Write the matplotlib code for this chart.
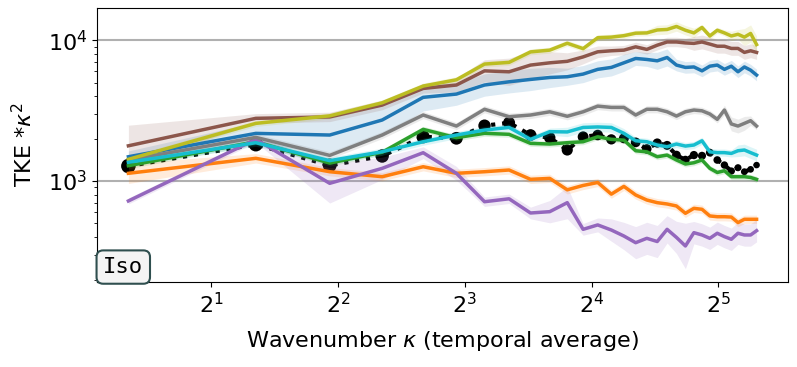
import numpy as np
import matplotlib
matplotlib.use("Agg")
import matplotlib.pyplot as plt

# wavenumbers (temporal average)
kappa = [1.27, 2.55, 3.82, 5.09, 6.37, 7.64, 8.91, 10.19, 11.46, 12.73,
         14.01, 15.28, 16.55, 17.83, 19.10, 20.37, 21.65, 22.92, 24.19, 25.46,
         26.74, 28.01, 29.28, 30.56, 31.83, 33.10, 34.38, 35.65, 36.92, 38.20, 39.47]

# reference (black dots)
ref = [1277, 1820, 1290, 1505, 2060, 2010, 2470, 2590, 2120, 2030,
       1660, 2060, 2120, 1975, 2010, 1880, 1690, 1860, 1790, 1528,
       1410, 1528, 1510, 1590, 1410, 1298, 1177, 1243, 1164, 1210, 1298]

blue = [1487, 2178, 2120, 2710, 3925, 4140, 4800, 5060, 5260, 5430,
        5495, 5740, 6200, 6400, 6900, 7410, 7290, 7130, 7530, 6650,
        6400, 6450, 6050, 6530, 6650, 6200, 6530, 5960, 6450, 6120, 5650]
orange = [1134, 1449, 1164, 1073, 1263, 1134, 1164, 1197, 1028, 1044,
          866, 930, 976, 807, 916, 796, 733, 702, 687, 665,
          590, 640, 630, 565, 558, 558, 555, 507, 535, 535, 535]
green = [1284, 1900, 1340, 1600, 2326, 2030, 2180, 2145, 1850, 1830,
         1870, 1900, 2060, 1975, 1950, 1640, 1610, 1487, 1528, 1410,
         1320, 1348, 1410, 1230, 1150, 1183, 1073, 1073, 1073, 1060, 1028]
purple = [722, 1975, 963, 1230, 1588, 1134, 713, 748, 593, 606,
          702, 454, 488, 449, 407, 365, 392, 372, 454, 398,
          346, 430, 414, 392, 426, 403, 386, 426, 414, 414, 444]
brown = [1778, 2785, 2850, 3460, 4540, 4800, 6050, 5960, 6650, 6900,
         7070, 7600, 8260, 8400, 8490, 8960, 8590, 9200, 9700, 9700,
         9550, 9480, 9700, 9370, 9050, 9050, 8730, 8730, 8180, 8400, 8180]
gray = [1410, 2040, 1520, 2120, 2940, 2455, 3230, 2860, 2940, 3100,
        2880, 3100, 3400, 3330, 3330, 2940, 3230, 3230, 3100, 2890,
        3100, 3190, 3150, 2990, 2740, 3190, 2540, 2455, 2565, 2680, 2455]
olive = [1426, 2565, 2900, 3590, 4720, 5230, 6760, 6950, 8250, 8490,
         9500, 8700, 10400, 10500, 10750, 11200, 11250, 11800, 11900, 12500,
         11750, 11250, 12300, 10700, 11750, 11250, 10700, 11000, 10500, 11150, 9300]
cyan = [1358, 1870, 1395, 1614, 1900, 2120, 2300, 2400, 1975, 2240,
        2230, 2400, 2420, 2400, 2180, 1930, 1900, 1800, 1750, 1830,
        1770, 1800, 1930, 1610, 1590, 1590, 1570, 1640, 1660, 1590, 1528]

# relative spread of the shaded bands
blue_sd = [0.10, 0.20, 0.33, 0.30, 0.25, 0.20, 0.20, 0.20, 0.20, 0.18,
           0.15, 0.15, 0.15, 0.15, 0.15, 0.12, 0.12, 0.15, 0.15, 0.10,
           0.10, 0.10, 0.10, 0.10, 0.10, 0.10, 0.10, 0.10, 0.10, 0.10, 0.10]
orange_sd = [0.18, 0.08, 0.07, 0.07, 0.07, 0.07, 0.07, 0.07, 0.07, 0.07,
             0.07, 0.07, 0.07, 0.07, 0.07, 0.07, 0.07, 0.07, 0.07, 0.07,
             0.07, 0.07, 0.07, 0.07, 0.07, 0.07, 0.07, 0.07, 0.07, 0.07, 0.07]
green_sd = [0.05] * 31
purple_sd = [0.05, 0.05, 0.38, 0.20, 0.10, 0.12, 0.08, 0.08, 0.10, 0.20,
             0.30, 0.10, 0.12, 0.20, 0.25, 0.30, 0.30, 0.30, 0.25, 0.30,
             0.45, 0.20, 0.20, 0.20, 0.20, 0.20, 0.20, 0.20, 0.20, 0.20, 0.20]
brown_sd = [0.40, 0.08, 0.08, 0.08, 0.08, 0.12, 0.20, 0.25, 0.25, 0.20,
            0.15, 0.12, 0.10, 0.08, 0.08, 0.08, 0.08, 0.08, 0.08, 0.08,
            0.08, 0.12, 0.12, 0.12, 0.12, 0.12, 0.12, 0.12, 0.12, 0.12, 0.12]
gray_sd = [0.06, 0.06, 0.06, 0.06, 0.06, 0.06, 0.06, 0.06, 0.06, 0.06,
           0.06, 0.06, 0.06, 0.06, 0.06, 0.06, 0.06, 0.06, 0.06, 0.06,
           0.06, 0.06, 0.06, 0.06, 0.06, 0.08, 0.12, 0.12, 0.12, 0.08, 0.06]
olive_sd = [0.05, 0.05, 0.05, 0.05, 0.05, 0.05, 0.05, 0.05, 0.05, 0.05,
            0.05, 0.05, 0.05, 0.05, 0.05, 0.05, 0.05, 0.08, 0.08, 0.08,
            0.08, 0.08, 0.05, 0.05, 0.05, 0.05, 0.08, 0.08, 0.15, 0.15, 0.15]
cyan_sd = [0.06, 0.06, 0.06, 0.06, 0.06, 0.06, 0.06, 0.06, 0.06, 0.06,
           0.08, 0.08, 0.08, 0.08, 0.08, 0.06, 0.06, 0.06, 0.06, 0.06,
           0.06, 0.06, 0.06, 0.06, 0.06, 0.06, 0.06, 0.10, 0.10, 0.10, 0.10]

series = [
    (blue, blue_sd, "tab:blue"),
    (orange, orange_sd, "tab:orange"),
    (green, green_sd, "tab:green"),
    (purple, purple_sd, "tab:purple"),
    (brown, brown_sd, "tab:brown"),
    (gray, gray_sd, "tab:gray"),
    (olive, olive_sd, "tab:olive"),
    (cyan, cyan_sd, "tab:cyan"),
]

plt.rcParams["font.size"] = 16

fig = plt.figure(figsize=(7.97, 3.67), dpi=100)
ax = fig.add_axes([0.1217, 0.2316, 0.8670, 0.7466])

k = np.array(kappa)
# reference: dotted line with shrinking dots
ax.plot(k, ref, "k:", lw=3, zorder=1)
ax.scatter(k, ref, s=np.geomspace(110, 22, len(k)), c="k", zorder=1, lw=0)

for vals, sd, col in series:
    v = np.array(vals, dtype=float)
    s = 1 + np.array(sd)
    ax.fill_between(k, v / s, v * s, color=col, alpha=0.15, lw=0, zorder=2)
    ax.plot(k, v, color=col, lw=2.5, zorder=3)

ax.set_xscale("log", base=2)
ax.set_yscale("log")
ax.set_ylim(192, 16900)
ax.yaxis.grid(True, which="major", color="#b0b0b0", lw=1.5)
ax.set_axisbelow(True)

ax.set_xlabel(r"Wavenumber $\kappa$ (temporal average)", labelpad=9)
ax.set_ylabel(r"TKE *$\kappa^2$", labelpad=8)

ax.text(0.009, 0.018, "Iso", transform=ax.transAxes, family="DejaVu Sans Mono",
        fontsize=16, va="bottom", ha="left", zorder=5,
        bbox=dict(boxstyle="round,pad=0.3", fc="#f4f4f4", ec="#2f4f4f", lw=1.5))

fig.savefig("out.png", dpi=100)
